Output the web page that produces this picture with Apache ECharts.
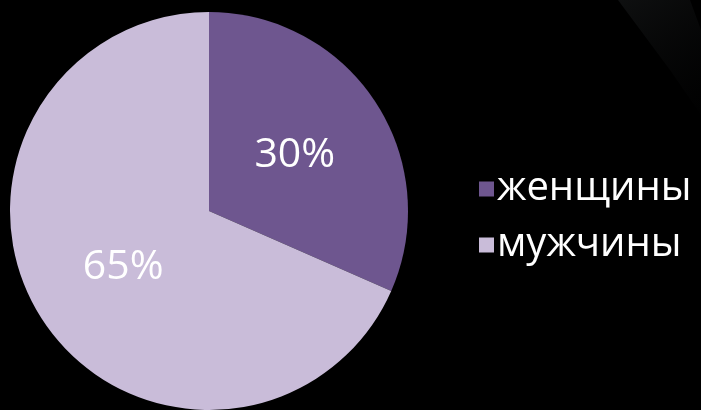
<!DOCTYPE html>
<html><head><meta charset="utf-8">
<script src="https://cdn.jsdelivr.net/npm/echarts@6/dist/echarts.min.js"></script>
<style>html,body{margin:0;padding:0;background:#000;}#c{width:701px;height:410px;}</style>
</head><body><div id="c"></div>
<script>
const categories = ['женщины', 'мужчины'];
const values = [30, 65];
const colors = ['#6e568f', '#c9bcd9'];

const chart = echarts.init(document.getElementById('c'), null, {renderer: 'canvas'});
chart.setOption({
  backgroundColor: '#000000',
  animation: false,
  graphic: [{
    type: 'polygon', silent: true, z: -1,
    shape: {points: [[618, 0], [690, 0], [701, 30], [701, 115], [670, 70]]},
    style: {fill: {type: 'linear', x: 0, y: 0, x2: 1, y2: 1, colorStops: [
      {offset: 0, color: 'rgba(120,130,135,0.12)'}, {offset: 1, color: 'rgba(60,65,70,0.01)'}]}}
  }],
  legend: {
    orient: 'vertical', left: 474, top: 164,
    icon: 'rect', itemWidth: 15, itemHeight: 15, itemGap: 16,
    textStyle: {color: '#ffffff', fontFamily: 'Open Sans', fontSize: 40, lineHeight: 40, padding: [0, 0, 0, -2]},
    data: categories
  },
  series: [{
    type: 'pie', center: [209, 211], radius: 199, startAngle: 90, clockwise: true,
    silent: true,
    data: categories.map((n, i) => ({name: n, value: values[i], itemStyle: {color: colors[i]}})),
    label: {show: true, position: 'inside', formatter: '{c}%', color: '#ffffff',
      fontFamily: 'Open Sans', fontSize: 41},
    labelLine: {show: false},
    itemStyle: {borderWidth: 0}
  }]
});
</script></body></html>
